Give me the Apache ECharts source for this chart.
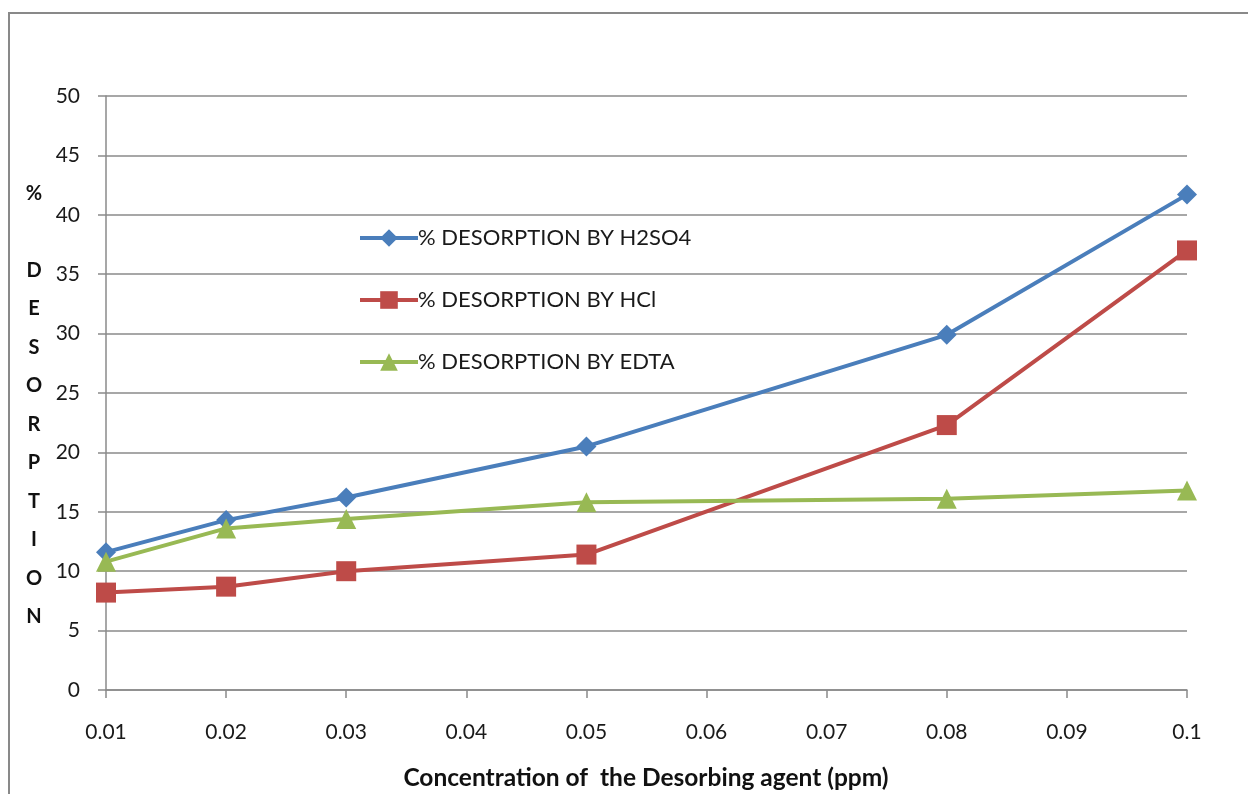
<!DOCTYPE html>
<html>
<head>
<meta charset="utf-8">
<script src="https://cdn.jsdelivr.net/npm/echarts@6/dist/echarts.min.js"></script>
<style>html,body{margin:0;padding:0;background:#fff;}#c{width:1248px;height:794px;}</style>
</head>
<body>
<div id="c"></div>
<script>
const concentrations = [0.01, 0.02, 0.03, 0.05, 0.08, 0.1];
const h2so4 = [11.6, 14.3, 16.2, 20.5, 29.9, 41.7];
const hcl = [8.2, 8.7, 10.0, 11.4, 22.3, 37.0];
const edta = [10.8, 13.6, 14.4, 15.8, 16.1, 16.8];
const seriesNames = ['% DESORPTION BY H2SO4', '% DESORPTION BY HCl', '% DESORPTION BY EDTA'];
const xTitle = 'Concentration of  the Desorbing agent (ppm)';
const yTitle = '%\n\nD\nE\nS\nO\nR\nP\nT\nI\nO\nN';

const FONT = 'Lato, "Liberation Sans", sans-serif';
const chart = echarts.init(document.getElementById('c'), null, {renderer: 'canvas'});
function pairs(v) { return concentrations.map((x, i) => [x, v[i]]); }
chart.setOption({
  animation: false,
  backgroundColor: '#fff',
  grid: {left: 106, right: 61, top: 96, bottom: 104, containLabel: false},
  graphic: [
    {type: 'rect', shape: {x: 9, y: 13, width: 1260, height: 800}, style: {fill: 'none', stroke: '#898989', lineWidth: 2}},
    {type: 'text', left: 23, top: 174, style: {text: yTitle, font: 'bold 20px ' + FONT, fill: '#111', textAlign: 'center', lineHeight: 38.5, width: 22}},
    {type: 'text', x: 646, y: 778, style: {text: xTitle, font: 'bold 24.5px ' + FONT, fill: '#111', textAlign: 'center', textVerticalAlign: 'middle'}}
  ],
  legend: {
    orient: 'vertical', left: 353, top: 222, itemGap: 40,
    itemWidth: 58, itemHeight: 22,
    lineStyle: {width: 4},
    textStyle: {fontFamily: FONT, fontSize: 22, color: '#1a1a1a', padding: [0, 0, 0, -5]},
    data: seriesNames
  },
  xAxis: {
    type: 'value', min: 0.01, max: 0.1, interval: 0.01,
    axisLine: {lineStyle: {color: '#8a8a8a', width: 1.5}},
    axisTick: {show: true, length: 8, lineStyle: {color: '#8a8a8a', width: 1.5}},
    splitLine: {show: false},
    axisLabel: {fontFamily: FONT, fontSize: 21, color: '#1a1a1a', margin: 32,
      formatter: v => String(Math.round(v * 100) / 100)}
  },
  yAxis: {
    type: 'value', min: 0, max: 50, interval: 5,
    axisLine: {show: true, lineStyle: {color: '#8a8a8a', width: 1.5}},
    axisTick: {show: true, length: 8, lineStyle: {color: '#8a8a8a', width: 1.5}},
    splitLine: {show: true, lineStyle: {color: '#8a8a8a', width: 1.5}},
    axisLabel: {fontFamily: FONT, fontSize: 21, color: '#1a1a1a', margin: 26}
  },
  series: [
    {name: seriesNames[0], type: 'line', data: pairs(h2so4), symbol: 'diamond', symbolSize: 20,
      lineStyle: {color: '#4a7ebb', width: 4}, itemStyle: {color: '#4a7ebb'}},
    {name: seriesNames[1], type: 'line', data: pairs(hcl), symbol: 'rect', symbolSize: 20,
      lineStyle: {color: '#be4b48', width: 4}, itemStyle: {color: '#be4b48'}},
    {name: seriesNames[2], type: 'line', data: pairs(edta), symbol: 'triangle', symbolSize: 20,
      lineStyle: {color: '#98b954', width: 4}, itemStyle: {color: '#98b954'}}
  ]
});
</script>
</body>
</html>
